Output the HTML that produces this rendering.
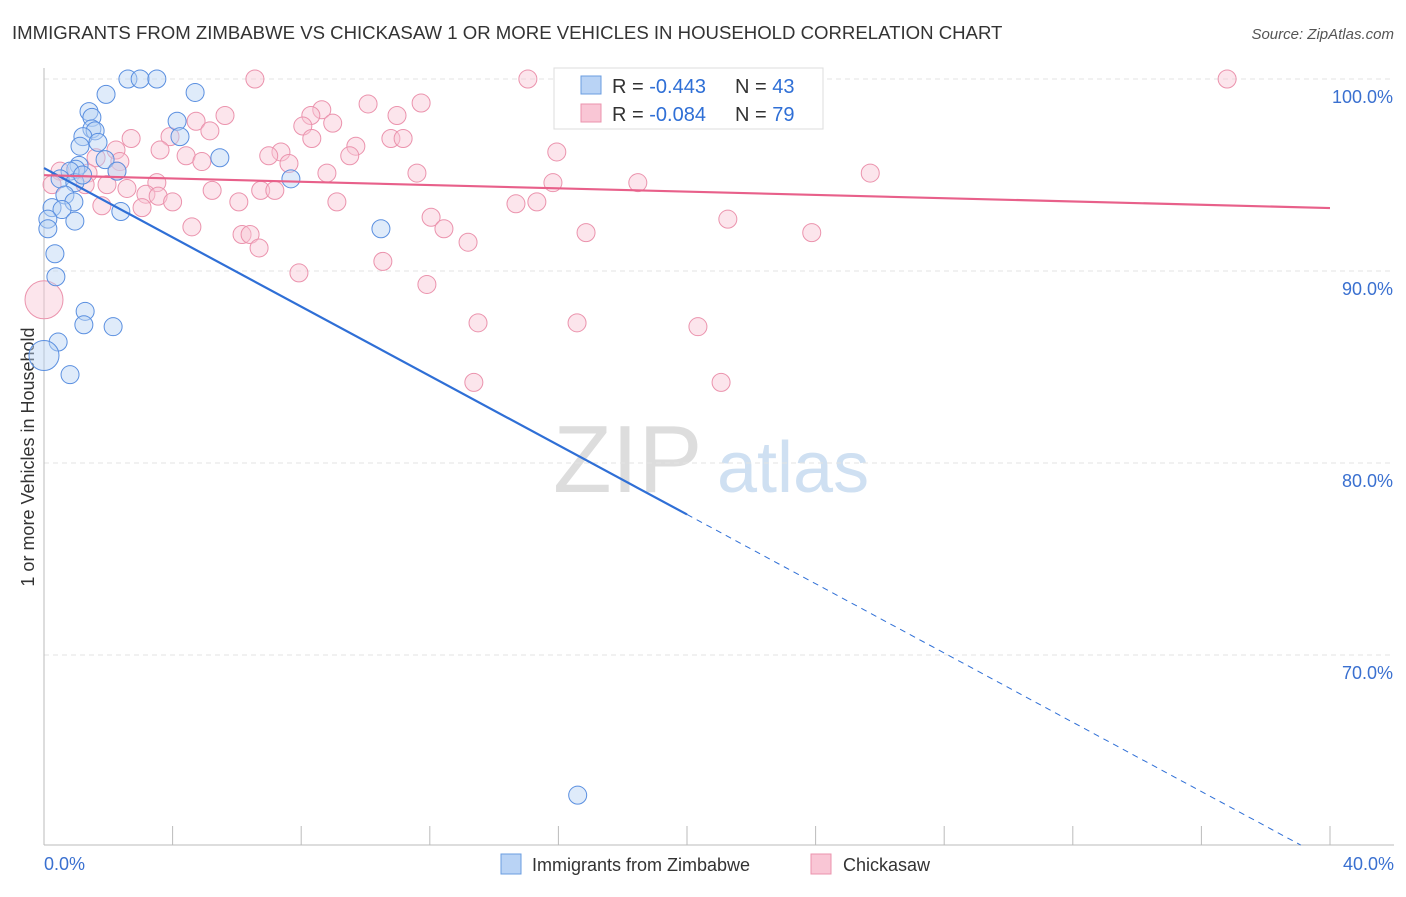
<!DOCTYPE html>
<html><head><meta charset="utf-8"><style>
body{margin:0;background:#fff;font-family:"Liberation Sans",sans-serif;}
svg text{font-family:"Liberation Sans",sans-serif;}
</style></head><body>
<svg id="chart" width="1406" height="892">
<text x="12" y="39" font-size="18.6" fill="#333">IMMIGRANTS FROM ZIMBABWE VS CHICKASAW 1 OR MORE VEHICLES IN HOUSEHOLD CORRELATION CHART</text>
<text x="1394" y="39" font-size="15" fill="#555" font-style="italic" text-anchor="end">Source: ZipAtlas.com</text>
<text x="34" y="457" font-size="18" fill="#333" text-anchor="middle" transform="rotate(-90 34 457)">1 or more Vehicles in Household</text>
<g><text x="553" y="492" font-size="96" fill="#ddd" font-family="Liberation Serif">ZIP</text><text x="717" y="492" font-size="72" fill="#cfe0f2">atlas</text></g>
<g id="grid"></g><g id="pts"></g><g id="lines"></g>
<g>
<rect x="554" y="68" width="269" height="61" fill="#fff" stroke="#ddd"/>
<rect x="581" y="76" width="20" height="18" fill="#b9d3f5" stroke="#6a9de0"/>
<rect x="581" y="104" width="20" height="18" fill="#f9c6d5" stroke="#eb93ad"/>
<text x="612" y="93" font-size="20" fill="#333">R = <tspan fill="#2f6fd6">-0.443</tspan></text>
<text x="735" y="93" font-size="20" fill="#333">N = <tspan fill="#2f6fd6">43</tspan></text>
<text x="612" y="121" font-size="20" fill="#333">R = <tspan fill="#2f6fd6">-0.084</tspan></text>
<text x="735" y="121" font-size="20" fill="#333">N = <tspan fill="#2f6fd6">79</tspan></text>
</g>
<g>
<rect x="501" y="854" width="20" height="20" fill="#b9d3f5" stroke="#6a9de0"/>
<text x="532" y="871" font-size="18" fill="#333">Immigrants from Zimbabwe</text>
<rect x="811" y="854" width="20" height="20" fill="#f9c6d5" stroke="#eb93ad"/>
<text x="843" y="871" font-size="18" fill="#333">Chickasaw</text>
</g>
</svg>
<script>
const yTicks=[100,90,80,70];
const xTickLabels=["0.0%","40.0%"];
const blueX=[2.61,2.99,3.51,1.93,4.70,1.40,4.14,1.49,1.49,1.59,1.21,4.23,1.68,1.12,5.47,1.90,1.09,0.99,2.27,0.81,7.68,0.50,0.96,0.65,0.93,0.25,0.56,2.39,0.12,0.96,0.12,10.48,0.34,0.37,1.28,1.24,2.15,0.44,0.81,16.6,1.2];
const blueY=[100,100,100,99.2,99.3,98.3,97.8,98.0,97.4,97.3,97.0,97.0,96.7,96.5,95.9,95.8,95.5,95.3,95.2,95.2,94.8,94.8,94.6,93.96,93.6,93.3,93.2,93.1,92.7,92.6,92.2,92.2,90.9,89.7,87.9,87.2,87.1,86.3,84.6,62.7,95.0];
const pinkX=[6.56,15.05,18.28,21.9,36.8,10.08,11.73,8.64,5.63,10.98,8.30,4.73,8.05,8.98,5.16,3.92,8.33,2.71,10.79,11.17,3.61,9.70,15.95,7.37,4.42,6.99,9.51,2.24,1.62,2.36,4.91,7.62,25.7,8.80,11.60,2.27,1.37,0.50,15.83,18.47,3.51,1.96,0.25,1.28,2.58,5.23,6.74,7.18,3.17,3.55,9.11,4.0,6.06,15.33,14.68,1.80,3.05,12.04,21.27,4.60,12.44,6.16,6.41,16.86,23.88,13.19,6.69,10.54,7.93,11.91,13.50,16.58,20.34,13.37,21.06];
const pinkY=[100,100,100,100,100,98.7,98.75,98.4,98.1,98.1,98.1,97.8,97.55,97.7,97.3,97.0,96.9,96.9,96.9,96.9,96.3,96.5,96.2,96.2,96.0,96.0,96.0,96.3,95.9,95.7,95.7,95.6,95.1,95.1,95.1,95.2,95.1,95.2,94.6,94.6,94.6,94.5,94.5,94.5,94.3,94.2,94.2,94.2,94.0,93.9,93.6,93.6,93.6,93.6,93.5,93.4,93.3,92.8,92.7,92.3,92.2,91.9,91.9,92.0,92.0,91.5,91.2,90.5,89.9,89.3,87.3,87.3,87.1,84.2,84.2];
const bigBlue=[0,85.6], bigPink=[0,88.5];
const blueTrend=[95.36,-0.902], pinkTrend=[94.99,-0.0428];
const sx=v=>44+v*1286/40, sy=v=>79+(100-v)*19.2;
const NS="http://www.w3.org/2000/svg";
function mk(t,a,p){const e=document.createElementNS(NS,t);for(const k in a)e.setAttribute(k,a[k]);p.appendChild(e);return e;}
const grid=document.getElementById('grid');
yTicks.forEach(v=>{
 const l=mk('line',{x1:44,x2:1394,y1:sy(v),y2:sy(v),stroke:'#e3e3e3','stroke-dasharray':'5,4'},grid);
 
 
 const t=mk('text',{x:1393,y:sy(v)+24,'font-size':18,fill:'#3a70d0','text-anchor':'end'},grid);t.textContent=v.toFixed(1)+'%';
 
 
});
const ax=mk('line',{x1:44,x2:44,y1:68,y2:845,stroke:'#bbb'},grid);


const bx=mk('line',{x1:44,x2:1394,y1:845,y2:845,stroke:'#bbb'},grid);


for(let i=0;i<=10;i++){const tk=mk('line',{x1:sx(i*4),x2:sx(i*4),y1:826,y2:845,stroke:'#bbb'},grid);
 
 }
[[0,'start',44],[40,'end',1394]].forEach((d,i)=>{const t=mk('text',{x:d[2],y:870,'font-size':18,fill:'#3a70d0','text-anchor':d[1]},grid);t.textContent=xTickLabels[i];
 
 });
const pts=document.getElementById('pts');
function dot(x,y,r,c,s,n){const e=mk('circle',{cx:sx(x),cy:sy(y),r:r,fill:c,'fill-opacity':0.45,stroke:s,'stroke-width':1},pts);
 
 }
pinkX.forEach((x,i)=>dot(x,pinkY[i],9,'#f9c6d5','#eb93ad','chickasaw-point'));
dot(bigPink[0],bigPink[1],19,'#f9c6d5','#eb93ad','chickasaw-point');
blueX.forEach((x,i)=>dot(x,blueY[i],9,'#b9d3f5','#5a8fe0','zimbabwe-point'));
dot(bigBlue[0],bigBlue[1],15,'#b9d3f5','#5a8fe0','zimbabwe-point');
const lines=document.getElementById('lines');
const f=(t,x)=>t[0]+t[1]*x;
const bl=mk('line',{x1:sx(0),y1:sy(f(blueTrend,0)),x2:sx(20),y2:sy(f(blueTrend,20)),stroke:'#2f6fd6','stroke-width':2.2},lines);


const xe=(60.1-blueTrend[0])/blueTrend[1];
const bd=mk('line',{x1:sx(20),y1:sy(f(blueTrend,20)),x2:sx(xe),y2:sy(f(blueTrend,xe)),stroke:'#2f6fd6','stroke-width':1,'stroke-dasharray':'6,5'},lines);


const pl=mk('line',{x1:sx(0),y1:sy(f(pinkTrend,0)),x2:sx(40),y2:sy(f(pinkTrend,40)),stroke:'#e8608a','stroke-width':2.2},lines);


</script>
</body></html>
